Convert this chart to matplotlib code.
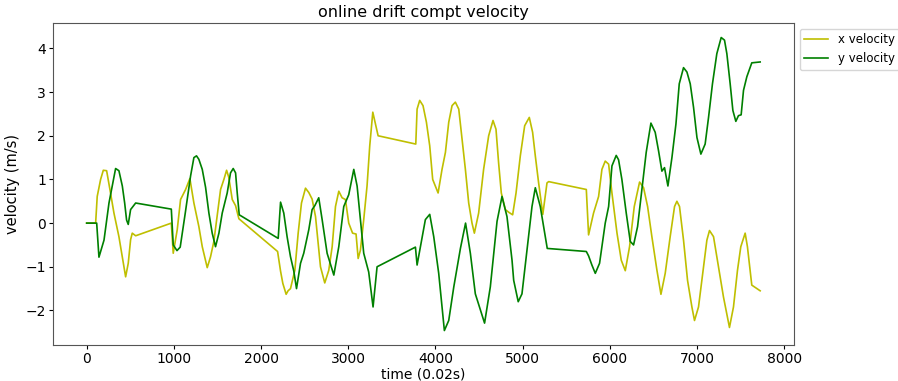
import numpy as np
import matplotlib.pyplot as plt

# x velocity (time in 0.02 s steps, value in m/s)
X_T = [0, 103, 121, 160, 191, 229, 267, 313, 370, 409, 447, 477, 504, 523, 562,
       971, 993, 1039, 1077, 1135, 1184, 1230, 1287, 1326, 1383, 1421, 1459, 1498,
       1536, 1574, 1605, 1630, 1670, 1708, 1746, 2190, 2224, 2250, 2288, 2310, 2338,
       2388, 2426, 2464, 2510, 2548, 2586, 2625, 2644, 2682, 2731, 2777, 2816, 2854,
       2892, 2930, 2968, 3006, 3050, 3090, 3114, 3140, 3178, 3216, 3247, 3282, 3312,
       3343, 3775, 3790, 3820, 3858, 3897, 3935, 3969, 4031, 4076, 4115, 4153, 4191,
       4229, 4268, 4306, 4344, 4382, 4420, 4447, 4496, 4553, 4611, 4661, 4695, 4725,
       4756, 4802, 4840, 4886, 4925, 4974, 5024, 5077, 5115, 5146, 5184, 5232, 5280,
       5299, 5731, 5757, 5814, 5872, 5910, 5948, 5987, 6025, 6083, 6132, 6178, 6227,
       6281, 6342, 6388, 6434, 6483, 6541, 6587, 6636, 6693, 6743, 6770, 6800, 6846,
       6892, 6942, 6972, 7018, 7075, 7114, 7144, 7190, 7247, 7304, 7373, 7419, 7465,
       7503, 7553, 7579, 7629, 7725]
X_V = [0, 0, 0.61, 1.0, 1.21, 1.2, 0.77, 0.23, -0.31, -0.77, -1.23, -0.92, -0.38, -0.23, -0.29,
       0.0, -0.69, -0.15, 0.54, 0.77, 1.02, 0.46, -0.08, -0.54, -1.02, -0.77, -0.42, 0.19,
       0.77, 1.0, 1.21, 1.05, 0.54, 0.4, 0.1, -0.65, -1.1, -1.38, -1.63, -1.55, -1.5,
       -1.08, -0.23, 0.46, 0.8, 0.7, 0.55, 0.15, -0.23, -1.0, -1.37, -1.08, -0.54, 0.38,
       0.73, 0.58, 0.54, 0.0, -0.23, -0.25, -0.81, -0.62, 0.08, 0.85, 1.77, 2.54, 2.27,
       2.0, 1.81, 2.61, 2.81, 2.69, 2.31, 1.77, 1.0, 0.69, 1.23, 1.62, 2.31, 2.69,
       2.77, 2.61, 1.92, 1.23, 0.46, 0.0, -0.23, 0.23, 1.23, 2.0, 2.35, 2.15, 1.38,
       0.69, 0.31, 0.25, 0.19, 0.69, 1.54, 2.23, 2.42, 2.08, 1.54, 0.92, 0.2, 0.92,
       0.95, 0.77, -0.27, 0.23, 0.61, 1.23, 1.42, 1.35, 0.69, -0.23, -0.85, -1.09, -0.54,
       0.38, 0.94, 0.81, 0.38, -0.31, -1.08, -1.63, -1.15, -0.31, 0.38, 0.5, 0.38, -0.39,
       -1.31, -1.92, -2.23, -1.92, -1.0, -0.39, -0.17, -0.31, -1.0, -1.69, -2.39, -1.92, -1.08,
       -0.54, -0.23, -0.54, -1.42, -1.55]

# y velocity
Y_T = [0, 115, 141, 199, 256, 294, 332, 370, 409, 436, 458, 477, 504, 562, 971, 993,
       1036, 1073, 1131, 1192, 1230, 1260, 1287, 1326, 1364, 1402, 1440, 1478, 1517,
       1555, 1612, 1650, 1681, 1708, 1727, 1750, 2197, 2224, 2261, 2299, 2338, 2376,
       2407, 2453, 2490, 2548, 2586, 2617, 2662, 2701, 2758, 2835, 2892, 2949, 3006,
       3064, 3102, 3140, 3178, 3235, 3285, 3331, 3771, 3790, 3828, 3885, 3935, 3981,
       4038, 4076, 4103, 4153, 4211, 4287, 4346, 4401, 4458, 4564, 4630, 4707, 4764,
       4821, 4879, 4898, 4950, 4993, 5051, 5108, 5146, 5203, 5241, 5283, 5731, 5757,
       5795, 5834, 5883, 5948, 5987, 6025, 6074, 6101, 6139, 6189, 6235, 6273, 6319,
       6369, 6418, 6472, 6521, 6560, 6598, 6628, 6667, 6713, 6759, 6797, 6846, 6885,
       6923, 6961, 7000, 7045, 7094, 7133, 7178, 7228, 7278, 7316, 7343, 7381, 7412,
       7446, 7476, 7507, 7534, 7572, 7629, 7725]
Y_V = [0, 0, -0.78, -0.39, 0.46, 0.85, 1.25, 1.2, 0.85, 0.46, 0.07, -0.03, 0.31, 0.46, 0.32, -0.5,
       -0.63, -0.55, 0.23, 1.08, 1.5, 1.54, 1.46, 1.23, 0.82, 0.23, -0.23, -0.54, -0.23,
       0.23, 0.69, 1.15, 1.25, 1.15, 0.69, 0.19, -0.35, 0.48, 0.23, -0.31, -0.77, -1.1,
       -1.5, -0.92, -0.69, -0.15, 0.31, 0.4, 0.58, 0.08, -0.69, -1.19, -0.54, 0.38, 0.65,
       1.23, 0.85, 0.08, -0.69, -1.12, -1.92, -1.0, -0.55, -0.96, -0.54, 0.08, 0.2, -0.31,
       -1.15, -1.92, -2.46, -2.23, -1.46, -0.58, 0.0, -0.69, -1.62, -2.29, -1.46, 0.04, 0.61,
       0.15, -0.85, -1.31, -1.8, -1.62, -0.62, 0.38, 0.81, 0.38, -0.08, -0.58, -0.65, -0.75,
       -0.96, -1.15, -0.92, 0.0, 0.38, 1.31, 1.55, 1.45, 1.0, 0.23, -0.42, -0.5, -0.08,
       0.77, 1.62, 2.29, 2.08, 1.65, 1.19, 1.27, 0.85, 1.5, 2.27, 3.19, 3.56, 3.46,
       3.19, 2.65, 1.96, 1.58, 1.81, 2.42, 3.19, 3.88, 4.25, 4.19, 3.88, 3.19, 2.58,
       2.33, 2.46, 2.48, 3.04, 3.35, 3.67, 3.69]


def main():
    fig = plt.figure(figsize=(8.98, 3.81), dpi=100)
    ax = fig.add_axes([0.059, 0.094, 0.825, 0.846])
    ax.plot(X_T, X_V, color='y', linewidth=1.2, label='x velocity')
    ax.plot(Y_T, Y_V, color='g', linewidth=1.2, label='y velocity')
    ax.set_title('online drift compt velocity', fontsize=11.5, pad=4)
    ax.set_xlabel('time (0.02s)', fontsize=10, labelpad=1)
    ax.set_ylabel('velocity (m/s)', fontsize=10.5, labelpad=4)
    ax.tick_params(labelsize=10, length=3, pad=2)
    for s in ax.spines.values():
        s.set_color('#555555')
    ax.legend(loc='upper left', bbox_to_anchor=(1.0, 1.0), fontsize=8.5)
    plt.savefig('out.png')


if __name__ == '__main__':
    main()
